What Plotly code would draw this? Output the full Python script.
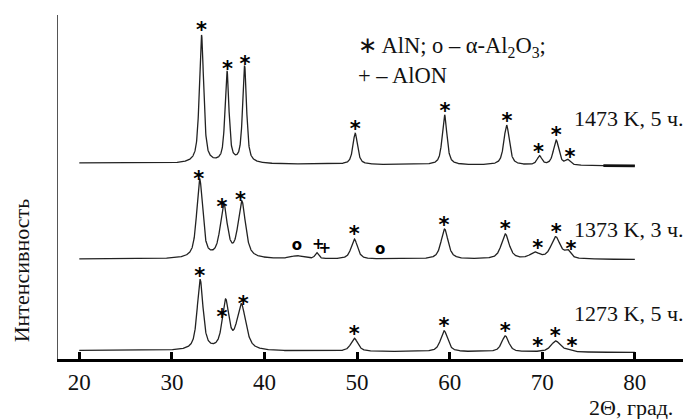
import numpy as np
import plotly.graph_objects as go

# ---- data (2θ in degrees, intensity in arbitrary units) ----
two_theta_min, two_theta_max = 20.0, 80.0

# peak lists: position (deg), height (a.u.), FWHM (deg)
top_pos = [33.2, 35.95, 37.85, 49.8, 59.45, 66.15, 69.7, 71.5, 72.75]
top_hgt = [128, 91, 97, 31, 50, 40, 9, 25, 5]
top_fwhm = [0.55, 0.5, 0.5, 0.6, 0.6, 0.7, 0.6, 0.7, 0.6]
top_base = [196, 193]          # baseline at 20° and 80°

mid_pos = [33.0, 35.6, 37.55, 43.5, 45.65, 49.7, 59.45, 66.0, 69.2, 71.45, 72.75]
mid_hgt = [79, 52, 56, 3, 6, 20, 30, 25, 6, 22, 7]
mid_fwhm = [0.75, 0.9, 0.95, 1.5, 0.45, 0.8, 0.9, 1.0, 1.2, 1.2, 0.7]
mid_base = [100, 99.5]

bot_pos = [33.05, 35.8, 37.5, 49.7, 59.4, 66.0, 71.45, 72.75]
bot_hgt = [70, 48, 45, 13, 21, 16, 11, 2]
bot_fwhm = [0.75, 0.85, 1.15, 0.9, 0.9, 0.9, 1.2, 0.8]
bot_base = [8.5, 6.5]

# phase markers: (2θ, symbol)
top_marks_x = [33.2, 36.0, 37.9, 49.8, 59.5, 66.2, 69.6, 71.5, 73.0]
top_marks_s = ["*"] * 9
mid_marks_x = [32.9, 35.4, 37.4, 43.5, 45.8, 46.5, 49.7, 52.5, 59.4, 66.0, 69.5, 71.5, 73.1]
mid_marks_s = ["*", "*", "*", "o", "+", "+", "*", "o", "*", "*", "*", "*", "*"]
bot_marks_x = [33.0, 35.4, 37.7, 49.7, 59.4, 66.0, 69.5, 71.4, 73.2]
bot_marks_s = ["*"] * 9

labels = ["1473 K, 5 ч.", "1373 K, 3 ч.", "1273 K, 5 ч."]
label_y = [241, 130, 46]
x_ticks = [20, 30, 40, 50, 60, 70, 80]


def pattern(x, pos, hgt, fwhm, base, eta=0.7):
    y = np.interp(x, [two_theta_min, two_theta_max], base)
    for p, h, w in zip(pos, hgt, fwhm):
        u = (x - p) / (w / 2)
        y = y + h * (eta / (1 + u ** 2) + (1 - eta) * np.exp(-np.log(2) * u ** 2))
    return y


x = np.linspace(two_theta_min, two_theta_max, 3001)
y_top = pattern(x, top_pos, top_hgt, top_fwhm, top_base)
y_mid = pattern(x, mid_pos, mid_hgt, mid_fwhm, mid_base)
y_bot = pattern(x, bot_pos, bot_hgt, bot_fwhm, bot_base)

line_col = "#222222"
fig = go.Figure()
for yy in (y_top, y_mid, y_bot):
    fig.add_trace(go.Scatter(x=x, y=yy, mode="lines",
                             line=dict(color=line_col, width=1.3),
                             hoverinfo="skip", showlegend=False))

# thick tail segment of the upper pattern
seg = x >= 76.6
fig.add_trace(go.Scatter(x=x[seg], y=y_top[seg], mode="lines",
                         line=dict(color="#111111", width=2.6),
                         hoverinfo="skip", showlegend=False))

gap = 9
for mx, ms, yy in ((top_marks_x, top_marks_s, y_top),
                   (mid_marks_x, mid_marks_s, y_mid),
                   (bot_marks_x, bot_marks_s, y_bot)):
    my = np.interp(mx, x, yy) + gap
    star_x = [a for a, s in zip(mx, ms) if s == "*"]
    star_y = [b for b, s in zip(my, ms) if s == "*"]
    oth_x = [a for a, s in zip(mx, ms) if s != "*"]
    oth_y = [b for b, s in zip(my, ms) if s != "*"]
    oth_s = [s for s in ms if s != "*"]
    fig.add_trace(go.Scatter(x=star_x, y=[v - 6 for v in star_y], mode="text",
                             text=["*"] * len(star_x), textposition="middle center",
                             textfont=dict(family="DejaVu Sans", size=21, color="#000", weight="bold"),
                             hoverinfo="skip", showlegend=False))
    if oth_x:
        fig.add_trace(go.Scatter(x=oth_x, y=oth_y, mode="text",
                                 text=oth_s, textposition="middle center",
                                 textfont=dict(family="DejaVu Sans", size=15, color="#000", weight="bold"),
                                 hoverinfo="skip", showlegend=False))

serif = "Liberation Serif, Times New Roman, serif"
for lab, ly in zip(labels, label_y):
    fig.add_annotation(x=73.2, y=ly, xref="x", yref="y", text=lab, showarrow=False,
                       xanchor="left", yanchor="middle",
                       font=dict(family=serif, size=22, color="#111"))

fig.add_annotation(x=49.9, y=312, xref="x", yref="y", xanchor="left", yanchor="middle",
                   text="∗ AlN; o – α-Al<sub>2</sub>O<sub>3</sub>;", showarrow=False,
                   font=dict(family=serif, size=22.5, color="#111"))
fig.add_annotation(x=49.9, y=284, xref="x", yref="y", xanchor="left", yanchor="middle",
                   text="+ – AlON", showarrow=False,
                   font=dict(family=serif, size=22.5, color="#111"))
# y title (page offset of 8 px is compensated through margins)
fig.add_annotation(x=-0.057, y=0.256, xref="paper", yref="paper", showarrow=False,
                   text="Интенсивность", textangle=-90, xanchor="center", yanchor="middle",
                   font=dict(family=serif, size=22, color="#111"))
fig.add_annotation(x=1.0, y=0, xref="paper", yref="paper", showarrow=False,
                   text="2Θ, град.", xanchor="right", yanchor="top", yshift=-34, xshift=-8,
                   font=dict(family=serif, size=22, color="#111"))

fig.update_layout(
    width=686, height=411,
    margin=dict(l=50, r=11, t=7, b=60),
    paper_bgcolor="white", plot_bgcolor="white",
    xaxis=dict(range=[17.7, 85.2], tickvals=x_ticks, ticktext=[str(t) for t in x_ticks],
               showline=True, linecolor="black", linewidth=3,
               ticks="inside", ticklen=7, tickwidth=3, tickcolor="black",
               showgrid=False, zeroline=False,
               tickfont=dict(family=serif, size=23, color="#111")),
    yaxis=dict(range=[0, 344], showline=True, linecolor="#555", linewidth=1,
               showticklabels=False, ticks="", showgrid=False, zeroline=False),
)
fig.write_html("out.html")
